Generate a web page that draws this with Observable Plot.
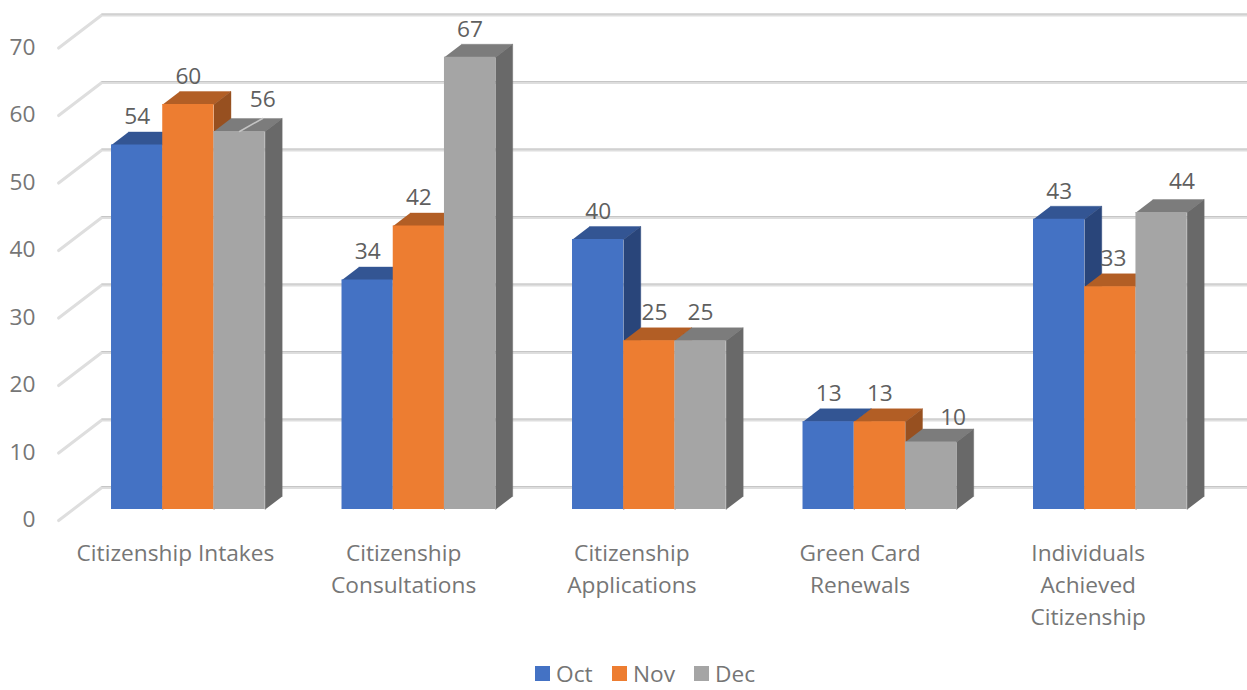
<!DOCTYPE html>
<html>
<head>
<meta charset="utf-8">
<script src="https://cdn.jsdelivr.net/npm/d3@7"></script>
<script src="https://cdn.jsdelivr.net/npm/@observablehq/plot@0.6"></script>
<style>
  html, body { margin: 0; padding: 0; background: #fff; overflow: hidden; }
  #legend { height: 26px; font: 22.7px "Open Sans", sans-serif; color: #757575; position: relative; }
  #legend span { position: absolute; white-space: nowrap; line-height: 31px; top: -6px; }
  #legend i { position: absolute; width: 15px; height: 15px; top: 2px; }
</style>
</head>
<body>
<div id="chart"></div>
<div id="legend"></div>
<script>
const categories = ["Citizenship Intakes", "Citizenship\nConsultations", "Citizenship\nApplications", "Green Card\nRenewals", "Individuals\nAchieved\nCitizenship"];
const seriesNames = ["Oct", "Nov", "Dec"];
const oct = [54, 34, 40, 13, 43];
const nov = [60, 42, 25, 13, 33];
const dec = [56, 67, 25, 10, 44];
const yTicks = [0, 10, 20, 30, 40, 50, 60, 70];

const values = [oct, nov, dec];
const frontColors = ["#4472C4", "#ED7D31", "#A5A5A5"];
const topColors = ["#335593", "#B25E25", "#7C7C7C"];
const sideColors = ["#29457A", "#975020", "#696969"];

// Oblique projection: one depth unit (the depth of a bar) in data units.
const depthX = 0.0738, depthY = 1.926;
const project = (x, y, z) => ({x: x + z * depthX, y: y + z * depthY});
const barW = 1 / 4.5, barStart = 0.75 / 4.5;
const wallZ = 1.69, frontZ = -0.85;
const font = {fontFamily: "Open Sans, sans-serif", fontSize: 22.7};

// Labels that the original moves off their bar: "series,category" -> [x shift in bar widths, pixels above the bar].
const labelPlacement = {"2,0": [0.45, 32], "2,3": [0.43, 24], "2,4": [0.4, 31], "1,2": [0.1, 28], "1,4": [0.06, 28]};

const poly = (pts, fill) => Plot.line(pts, {x: "x", y: "y", fill, stroke: fill, strokeWidth: 0.4, curve: "linear"});

const gridMarks = yTicks.flatMap(t => {
  const path = [project(0, t, frontZ), project(0, t, wallZ), project(5, t, wallZ)];
  return [
    Plot.line(path, {x: "x", y: "y", stroke: "#dedede", strokeWidth: 3, curve: "linear"}),
    Plot.line(path.slice(1), {x: "x", y: "y", stroke: "#c6c6c6", strokeWidth: 1, dy: -1, curve: "linear"})
  ];
});

const barMarks = categories.flatMap((_, i) => seriesNames.flatMap((_, s) => {
  const x0 = i + barStart + s * barW, x1 = x0 + barW, v = values[s][i];
  return [
    poly([project(x0, v, 0), project(x1, v, 0), project(x1, v, 1), project(x0, v, 1)], topColors[s]),
    poly([project(x1, 0, 0), project(x1, v, 0), project(x1, v, 1), project(x1, 0, 1)], sideColors[s]),
    Plot.rect([{x1: x0, x2: x1, y1: 0, y2: v}], {x1: "x1", x2: "x2", y1: "y1", y2: "y2", fill: frontColors[s]})
  ];
}));

const labelData = categories.flatMap((_, i) => seriesNames.map((_, s) => {
  const [shift, lift] = labelPlacement[s + "," + i] || [0, 28];
  return {x: i + barStart + (s + 0.5 + shift) * barW, y: values[s][i], lift};
}));
const labelMarks = Array.from(d3.group(labelData, d => d.lift), ([lift, rows]) =>
  Plot.text(rows, {x: "x", y: "y", text: "y", dy: -lift, fill: "#5f5f5f", ...font}));

const leader = [
  {x: barStart + 2.5 * barW, y: dec[0]},
  {x: barStart + 2.95 * barW, y: dec[0] + 1.93}
];

const plot = Plot.plot({
  width: 1247,
  height: 664,
  marginLeft: 38,
  marginRight: 0,
  marginTop: 0,
  marginBottom: 0,
  style: {background: "#fff", overflow: "hidden"},
  x: {type: "linear", domain: [0, 5], range: [72.6, 1225.1], axis: null},
  y: {type: "linear", domain: [0, 70], range: [509, 36.5], axis: null},
  marks: [
    ...gridMarks,
    ...barMarks,
    Plot.line(leader, {x: "x", y: "y", stroke: "#c4c4c4", strokeWidth: 1.5}),
    Plot.axisY({ticks: yTicks, tickSize: 0, tickPadding: 3, dy: 10.5, label: null, fill: "#767676", ...font, tickFormat: d => String(d)}),
    ...labelMarks,
    Plot.text(categories, {x: (_, i) => 0.444 + i * 0.99, y: 0, text: d => d, dy: 29, lineAnchor: "top", lineHeight: 1.41, fill: "#767676", ...font})
  ]
});
document.getElementById("chart").append(plot);
plot.style.display = "block";

const legend = document.getElementById("legend");
const swatchX = [535, 612, 694];
seriesNames.forEach((n, s) => {
  const sw = document.createElement("i");
  sw.style.left = swatchX[s] + "px";
  sw.style.background = frontColors[s];
  const label = document.createElement("span");
  label.textContent = n;
  label.style.left = (swatchX[s] + 21) + "px";
  legend.append(sw, label);
});
</script>
</body>
</html>
